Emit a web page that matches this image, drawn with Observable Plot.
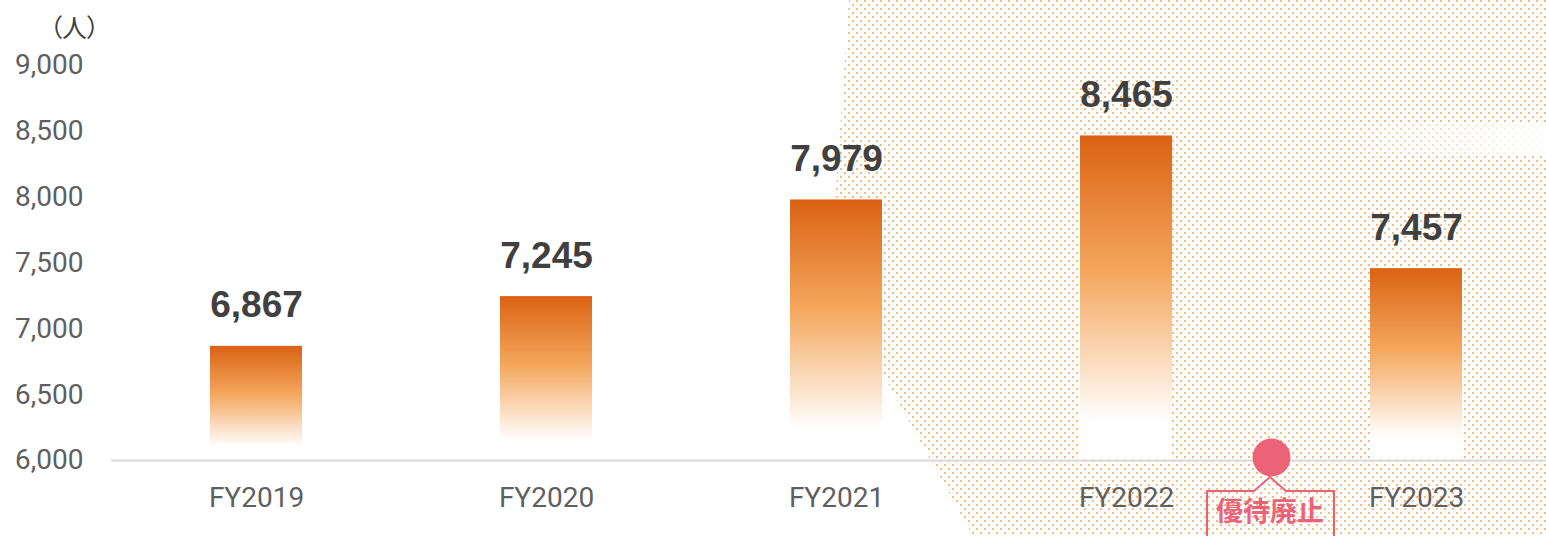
<!DOCTYPE html>
<html>
<head>
<meta charset="utf-8">
<script src="https://cdn.jsdelivr.net/npm/d3@7"></script>
<script src="https://cdn.jsdelivr.net/npm/@observablehq/plot@0.6"></script>
<style>
  html, body { margin: 0; padding: 0; background: #fff; }
  #chart svg { display: block; }
</style>
</head>
<body>
<div id="chart"></div>
<script>
// ---- data ----
const categories = ["FY2019", "FY2020", "FY2021", "FY2022", "FY2023"];
const values = [6867, 7245, 7979, 8465, 7457];
const yTicks = [6000, 6500, 7000, 7500, 8000, 8500, 9000];
const yBase = 6000;
const yMax = 9000;
const unitLabel = "（人）";
const eventLabel = "優待廃止";
const eventAfter = "FY2022";   // event sits between FY2022 and FY2023
const eventBefore = "FY2023";

const data = categories.map((c, i) => ({cat: c, value: values[i]}));
const fmt = d3.format(",");

const PINK = "#ec6378";
const PAD_INNER = 0.683;

function bandwidthOf(s) {
  const b = s.bandwidth;
  return typeof b === "function" ? b() : b;
}

// decorative dotted background + defs
function background(index, scales, values, dims) {
  const {width, height} = dims;
  const g = d3.create("svg:g");
  const defs = g.append("defs");
  const pat = defs.append("pattern").attr("id", "dots").attr("width", 8).attr("height", 8)
    .attr("patternUnits", "userSpaceOnUse");
  pat.append("rect").attr("x", 0).attr("y", 0).attr("width", 2).attr("height", 2).attr("fill", "#f59e4a").attr("opacity", 0.72);
  pat.append("rect").attr("x", 4).attr("y", 4).attr("width", 2).attr("height", 2).attr("fill", "#f59e4a").attr("opacity", 0.72);
  const bg = defs.append("linearGradient").attr("id", "barGrad").attr("x1", 0).attr("y1", 0).attr("x2", 0).attr("y2", 1);
  bg.append("stop").attr("offset", "0").attr("stop-color", "#db6214");
  bg.append("stop").attr("offset", "0.42").attr("stop-color", "#f4a75c");
  bg.append("stop").attr("offset", "0.88").attr("stop-color", "#ffffff");
  bg.append("stop").attr("offset", "1").attr("stop-color", "#ffffff");
  const fade = defs.append("linearGradient").attr("id", "fadeGrad").attr("x1", 0).attr("y1", 0).attr("x2", 1).attr("y2", 0);
  fade.append("stop").attr("offset", "0").attr("stop-color", "#fff").attr("stop-opacity", 0);
  fade.append("stop").attr("offset", "1").attr("stop-color", "#fff").attr("stop-opacity", 0.95);

  // polygon region of the dotted backdrop (left edge anchored near FY2021 band)
  const x21 = scales.x("FY2021") + bandwidthOf(scales.x); // right edge of FY2021 bar
  const pts = [
    [x21 - 33, 0], [x21 - 46, 190], [x21 - 43, 260], [x21 - 26, 320],
    [x21 + 4, 380], [x21 + 91, height], [width, height], [width, 0]
  ];
  g.append("path").attr("d", "M" + pts.map(p => p.join(",")).join("L") + "Z").attr("fill", "url(#dots)");
  g.append("rect").attr("x", width - 216).attr("y", 122).attr("width", 216).attr("height", 34).attr("fill", "url(#fadeGrad)");
  return g.node();
}

// callout box under the event marker
function callout(index, scales) {
  const bw = bandwidthOf(scales.x);
  const cx = (scales.x(eventAfter) + scales.x(eventBefore)) / 2 + bw / 2;
  const cy = scales.y(yBase);
  const g = d3.create("svg:g");
  const top = cy + 31, left = cx - 64, right = cx + 63, bottom = cy + 90;
  g.append("path")
    .attr("d", `M${left},${bottom}V${top}H${cx - 17}L${cx - 1},${cy + 17}L${cx + 15},${top}H${right}V${bottom}`)
    .attr("fill", "none").attr("stroke", PINK).attr("stroke-width", 2);
  g.append("text").attr("x", cx - 1).attr("y", cy + 54)
    .attr("text-anchor", "middle").attr("dominant-baseline", "middle")
    .attr("font-family", "'Noto Sans CJK JP', 'Noto Sans CJK SC', sans-serif")
    .attr("font-weight", "bold").attr("font-size", 27).attr("fill", PINK)
    .text(eventLabel);
  return g.node();
}

const chart = Plot.plot({
  width: 1546,
  height: 536,
  marginTop: 65,
  marginBottom: 76,
  marginLeft: 111,
  marginRight: 0,
  style: {fontFamily: "Roboto, 'Noto Sans', sans-serif", background: "#fff"},
  x: {domain: categories, range: [111, 1561], paddingInner: PAD_INNER, paddingOuter: PAD_INNER / 2, align: 0.5, label: null},
  y: {domain: [yBase, yMax], label: null},
  marks: [
    background,
    Plot.barY(data, {x: "cat", y1: yBase, y2: "value", fill: "url(#barGrad)"}),
    Plot.ruleY([yBase], {stroke: "#d9d9d9", strokeWidth: 2}),
    Plot.axisY({ticks: yTicks, tickSize: 0, tickPadding: 28, tickFormat: fmt, fontSize: 28, fill: "#5f5f5f"}),
    Plot.axisX({tickSize: 0, tickPadding: 27, fontSize: 28, fill: "#5f5f5f"}),
    Plot.text(data, {
      x: "cat", y: "value", text: d => fmt(d.value), dy: -29, lineAnchor: "bottom",
      fontSize: 37, fontWeight: "bold", fill: "#404040", fontFamily: "'Liberation Sans', Arial, sans-serif"
    }),
    Plot.dot([{cat: eventAfter, v: yBase}], {x: "cat", y: "v", r: 19, fill: PINK, dx: 145, dy: -3}),
    callout,
    Plot.text([unitLabel], {
      frameAnchor: "top-left", dx: -37, dy: -37, textAnchor: "middle", lineAnchor: "middle",
      fontSize: 25, fill: "#404040", fontFamily: "'Noto Sans CJK JP', sans-serif"
    })
  ]
});
chart.querySelectorAll("text").forEach(t => {
  if (t.textContent === unitLabel) t.style.fontFeatureSettings = '"palt"';
});
document.getElementById("chart").append(chart);
</script>
</body>
</html>
